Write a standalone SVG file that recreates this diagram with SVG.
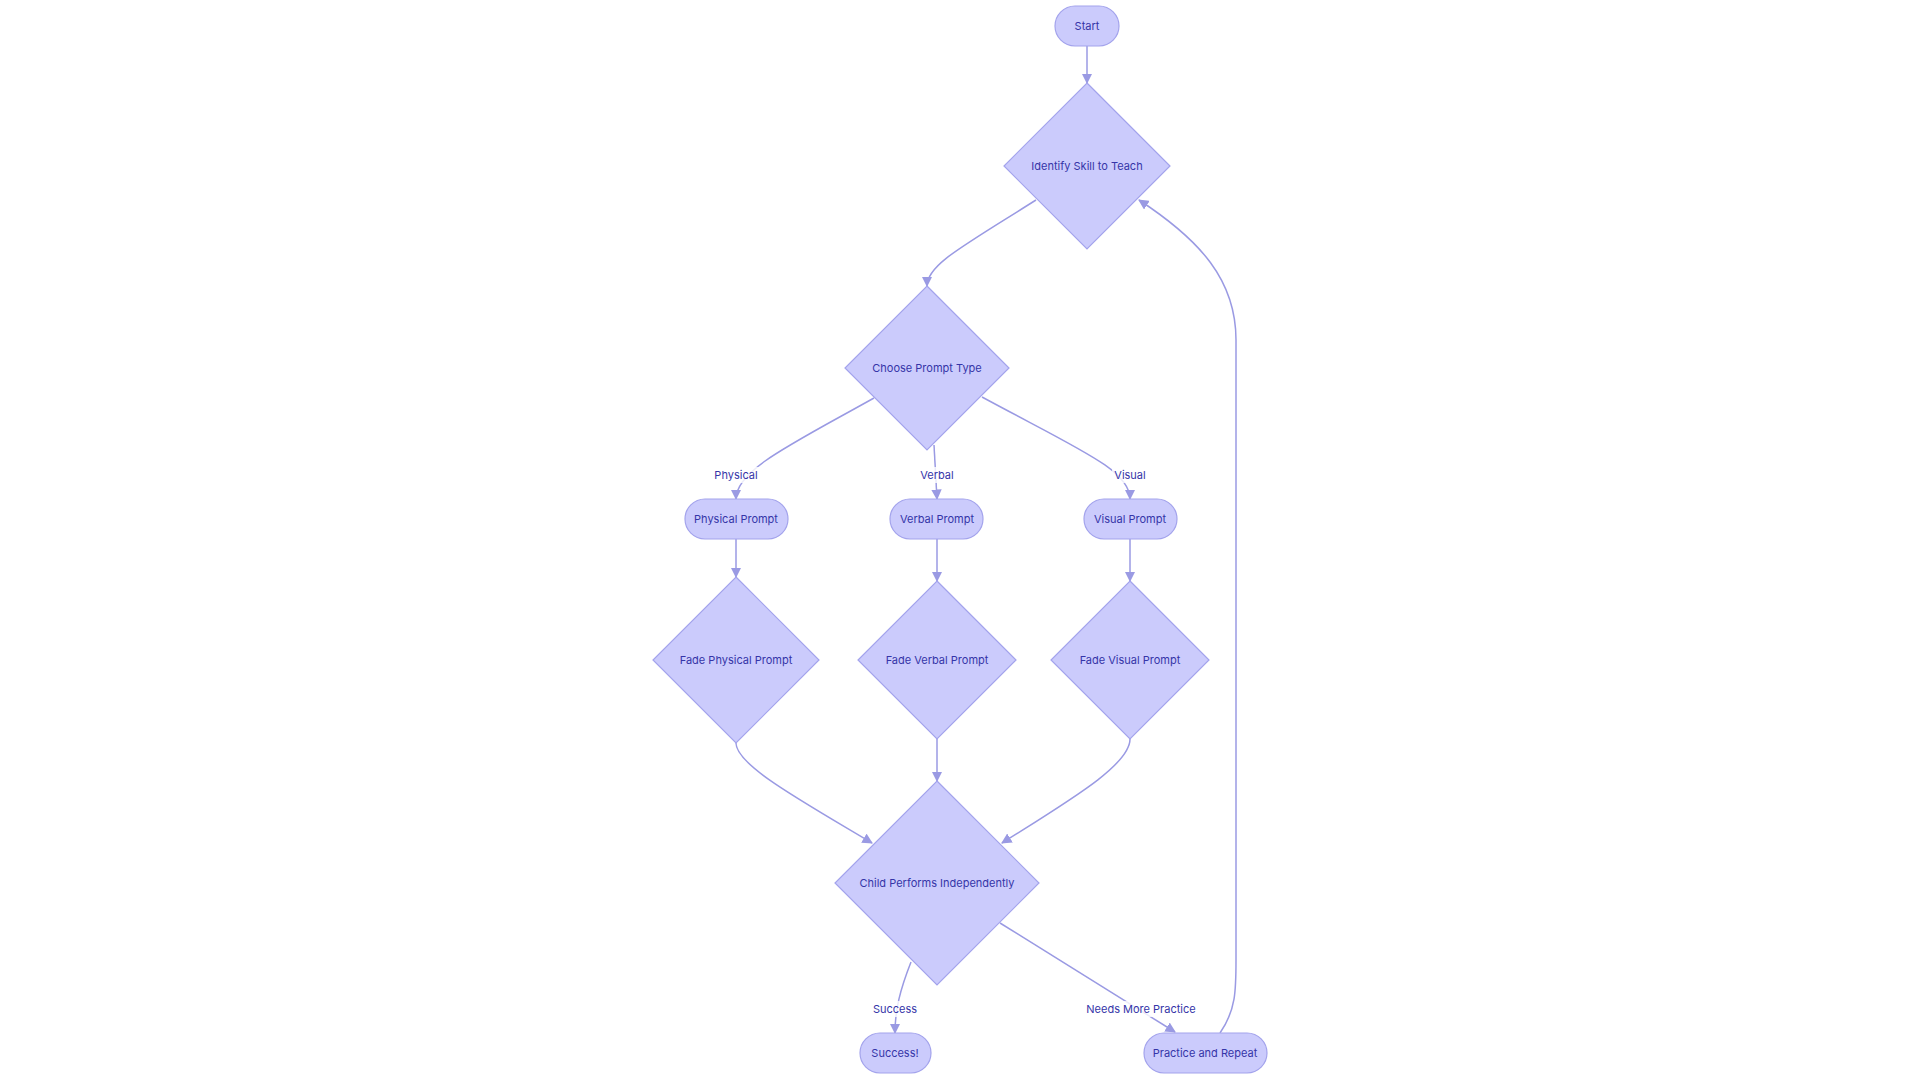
<svg xmlns="http://www.w3.org/2000/svg" width="1920" height="1080" viewBox="0 0 1920 1080">
<style>
.n{fill:#cbcbfc;stroke:#a3a3ec;stroke-width:1.2}
.t{font-family:Inter,"Liberation Sans",sans-serif;font-size:11px;fill:#3535a8;text-anchor:middle;dominant-baseline:central}
.e{fill:none;stroke:#9a9ae3;stroke-width:1.5;marker-end:url(#a)}
.l{font-family:Inter,"Liberation Sans",sans-serif;font-size:11px;fill:#3535a8;text-anchor:middle;dominant-baseline:central}
</style>
<defs><marker id="a" viewBox="0 0 10 10" refX="9" refY="5" markerWidth="7" markerHeight="7" orient="auto"><path d="M0,0L10,5L0,10z" fill="#9a9ae3"/></marker></defs>
<rect width="1920" height="1080" fill="#fff"/>
<g id="connectors">
<path class="e" d="M1087,46L1087,83"/>
<path class="e" d="M1036,200C960,248 927,265 927,286"/>
<path class="e" d="M874,398C790,445 736,470 736,499"/>
<path class="e" d="M934,445L937,499"/>
<path class="e" d="M982,397C1080,450 1130,470 1130,499"/>
<path class="e" d="M736,539L736,577"/>
<path class="e" d="M937,539L937,581"/>
<path class="e" d="M1130,539L1130,581"/>
<path class="e" d="M736,743C736,765 800,800 872,843"/>
<path class="e" d="M937,739L937,781"/>
<path class="e" d="M1130,739C1130,765 1070,800 1002,843"/>
<path class="e" d="M911,962C900,990 895,1010 895,1033"/>
<path class="e" d="M1000,923L1175,1032"/>
<path class="e" d="M1220,1033C1236,1010 1236,990 1236,960L1236,340C1236,280 1200,240 1139,200"/>
<g>
<rect x="712" y="467" width="48" height="16" fill="#fff" opacity="0.8"/><text class="l" x="736" y="475">Physical</text>
<rect x="917" y="467" width="40" height="16" fill="#fff" opacity="0.8"/><text class="l" x="937" y="475">Verbal</text>
<rect x="1112" y="467" width="36" height="16" fill="#fff" opacity="0.8"/><text class="l" x="1130" y="475">Visual</text>
<rect x="872" y="1001" width="46" height="16" fill="#fff" opacity="0.8"/><text class="l" x="895" y="1009">Success</text>
<rect x="1090" y="1001" width="102" height="16" fill="#fff" opacity="0.8"/><text class="l" x="1141" y="1009">Needs More Practice</text>
</g>
</g>
<g id="start"><rect class="n" x="1055" y="6" width="64" height="40" rx="20"/><text class="t" x="1087" y="26">Start</text></g>
<g id="identify"><polygon class="n" points="1087,83 1170,166 1087,249 1004,166"/><text class="t" x="1087" y="166">Identify Skill to Teach</text></g>
<g id="choose"><polygon class="n" points="927,286 1009,368 927,450 845,368"/><text class="t" x="927" y="368">Choose Prompt Type</text></g>
<g id="physical"><rect class="n" x="685" y="499" width="103" height="40" rx="20"/><text class="t" x="736" y="519">Physical Prompt</text></g>
<g id="verbal"><rect class="n" x="890" y="499" width="93" height="40" rx="20"/><text class="t" x="937" y="519">Verbal Prompt</text></g>
<g id="visual"><rect class="n" x="1084" y="499" width="93" height="40" rx="20"/><text class="t" x="1130" y="519">Visual Prompt</text></g>
<g id="fadePhysical"><polygon class="n" points="736,577 819,660 736,743 653,660"/><text class="t" x="736" y="660">Fade Physical Prompt</text></g>
<g id="fadeVerbal"><polygon class="n" points="937,581 1016,660 937,739 858,660"/><text class="t" x="937" y="660">Fade Verbal Prompt</text></g>
<g id="fadeVisual"><polygon class="n" points="1130,581 1209,660 1130,739 1051,660"/><text class="t" x="1130" y="660">Fade Visual Prompt</text></g>
<g id="child"><polygon class="n" points="937,781 1039,883 937,985 835,883"/><text class="t" x="937" y="883">Child Performs Independently</text></g>
<g id="success"><rect class="n" x="860" y="1033" width="71" height="40" rx="20"/><text class="t" x="895" y="1053">Success!</text></g>
<g id="practice"><rect class="n" x="1144" y="1033" width="123" height="40" rx="20"/><text class="t" x="1205" y="1053">Practice and Repeat</text></g>
</svg>
